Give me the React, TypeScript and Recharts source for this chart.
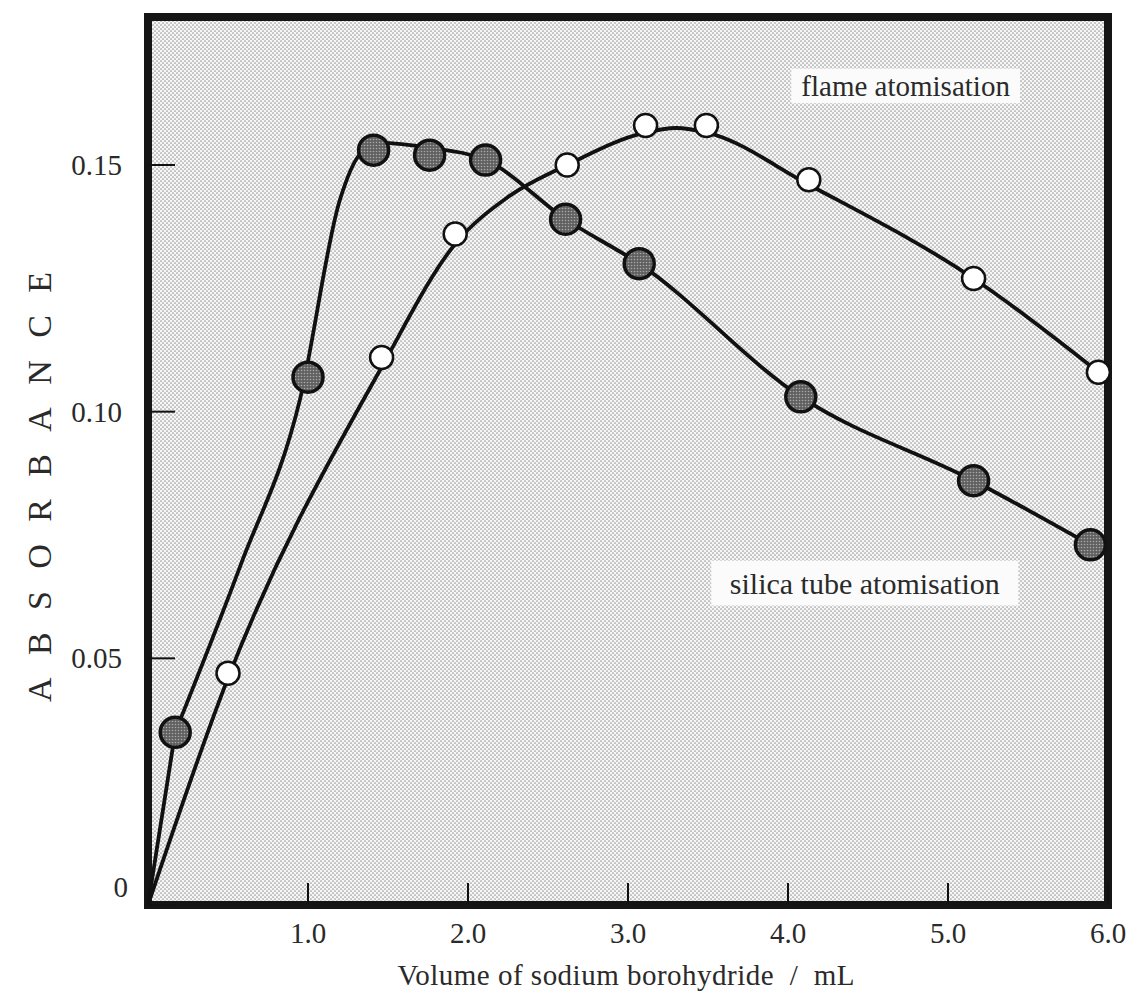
import {
  ComposedChart,
  Line,
  Scatter,
  XAxis,
  YAxis,
  CartesianGrid,
  ReferenceArea,
  Label,
} from "recharts";

const FONT = '"Liberation Serif", "Times New Roman", serif';

// tick values
const xTicks = [1, 2, 3, 4, 5, 6];
const yTicks = [0, 0.05, 0.1, 0.15];

// silica tube atomisation (filled circles)
const silicaX = [0.17, 1.0, 1.41, 1.76, 2.11, 2.61, 3.07, 4.08, 5.16, 5.89];
const silicaY = [0.035, 0.107, 0.153, 0.152, 0.151, 0.139, 0.13, 0.103, 0.086, 0.073];

// flame atomisation (open circles)
const flameX = [0.5, 1.46, 1.92, 2.62, 3.11, 3.49, 4.13, 5.16, 5.94];
const flameY = [0.047, 0.111, 0.136, 0.15, 0.158, 0.158, 0.147, 0.127, 0.108];

// hand-drawn fitted curves
// silica: straight stroke from the origin to the first point, then a smooth curve
const silicaStartX = [0, 0.17];
const silicaStartY = [0, 0.035];
const silicaCurveX = [0.17, 0.58, 0.95, 1.2, 1.32, 1.45, 1.76, 2.11, 2.61, 3.07, 4.08, 5.16, 5.89];
const silicaCurveY = [0.035, 0.069, 0.1025, 0.143, 0.152, 0.1545, 0.1535, 0.151, 0.139, 0.13, 0.103, 0.086, 0.073];
const flameCurveX = [0, 0.5, 1.46, 1.92, 2.25, 2.62, 3.1, 3.3, 3.5, 4.13, 5.16, 5.94];
const flameCurveY = [0, 0.046, 0.109, 0.134, 0.1435, 0.15, 0.1565, 0.1575, 0.1565, 0.146, 0.127, 0.108];

const toPts = (xs: number[], ys: number[]) => xs.map((x, i) => ({ x, y: ys[i] }));
const silicaPts = toPts(silicaX, silicaY);
const flamePts = toPts(flameX, flameY);
const silicaStart = toPts(silicaStartX, silicaStartY);
const silicaCurve = toPts(silicaCurveX, silicaCurveY);
const flameCurve = toPts(flameCurveX, flameCurveY);

function XTick({ x, y, payload }: any) {
  return (
    <text x={x} y={y + 38} textAnchor="middle" fontSize={29} fontFamily={FONT} fill="#2a2a2a">
      {Number(payload.value).toFixed(1)}
    </text>
  );
}

function YTick({ x, y, payload }: any) {
  const v = Number(payload.value);
  if (v === 0) {
    return (
      <text x={x - 20} y={y - 8} textAnchor="end" fontSize={29} fontFamily={FONT} fill="#2a2a2a">
        0
      </text>
    );
  }
  return (
    <text x={x - 26} y={y + 10} textAnchor="end" fontSize={29} fontFamily={FONT} fill="#2a2a2a">
      {v.toFixed(2)}
    </text>
  );
}

const OpenDot = (p: any) => (
  <circle cx={p.cx} cy={p.cy} r={11.5} fill="#fff" stroke="#111" strokeWidth={2.5} />
);

const FilledDot = (p: any) => (
  <circle cx={p.cx} cy={p.cy} r={15} fill="url(#darkStipple)" stroke="#111" strokeWidth={3.5} />
);

const XTitle = () => (
  <text
    x={626}
    y={985}
    textAnchor="middle"
    fontSize={29}
    fontFamily={FONT}
    fill="#2a2a2a"
    textLength={457}
    lengthAdjust="spacing"
    style={{ whiteSpace: "pre" }}
  >
    {"Volume of sodium borohydride  /  mL"}
  </text>
);

const YTitle = () => (
  <text
    x={39}
    y={487}
    transform="rotate(-90, 39, 487)"
    textAnchor="middle"
    dominantBaseline="central"
    fontSize={34}
    fontFamily={FONT}
    fill="#2a2a2a"
    textLength={430}
    lengthAdjust="spacing"
  >
    ABSORBANCE
  </text>
);

const curveProps = {
  dataKey: "y",
  stroke: "#111",
  strokeWidth: 3.8,
  dot: false,
  activeDot: false,
  isAnimationActive: false,
};

export default function App() {
  return (
    <div style={{ position: "absolute", left: 0, top: 0, width: 1128, height: 999, background: "#fff" }}>
      <svg width="0" height="0" style={{ position: "absolute" }}>
        <defs>
          <pattern id="stipple" width="4" height="4" patternUnits="userSpaceOnUse">
            <rect width="4" height="4" fill="#f6f6f6" />
            <circle cx="1" cy="1" r="0.85" fill="#9c9c9c" />
            <circle cx="3" cy="3" r="0.85" fill="#9c9c9c" />
          </pattern>
          <pattern id="darkStipple" width="3" height="3" patternUnits="userSpaceOnUse">
            <rect width="3" height="3" fill="#606060" />
            <circle cx="1.5" cy="1.5" r="0.8" fill="#a8a8a8" />
          </pattern>
        </defs>
      </svg>
      <ComposedChart width={1128} height={999} margin={{ top: 17, right: 20, bottom: 34, left: 0 }}>
        <CartesianGrid fill="url(#stipple)" horizontal={false} vertical={false} />
        <XAxis
          dataKey="x"
          type="number"
          domain={[0, 6]}
          ticks={xTicks}
          height={60}
          axisLine={false}
          tickSize={-22}
          tickMargin={22}
          tickLine={{ stroke: "#111", strokeWidth: 2 }}
          tick={XTick}
          interval={0}
        >
          <Label content={XTitle} />
        </XAxis>
        <YAxis
          dataKey="y"
          type="number"
          domain={[0, 0.18]}
          ticks={yTicks}
          width={148}
          axisLine={false}
          tickSize={-27}
          tickMargin={27}
          tickLine={{ stroke: "#111", strokeWidth: 2 }}
          tick={YTick}
          interval={0}
        >
          <Label content={YTitle} />
        </YAxis>

        <ReferenceArea
          x1={4.02}
          x2={5.45}
          y1={0.1625}
          y2={0.1695}
          fill="#fbfbfb"
          fillOpacity={1}
          stroke="none"
          ifOverflow="visible"
        >
          <Label value="flame atomisation" position="center" fontSize={29} fontFamily={FONT} fill="#2a2a2a" />
        </ReferenceArea>
        <ReferenceArea
          x1={3.52}
          x2={5.44}
          y1={0.0607}
          y2={0.0698}
          fill="#fbfbfb"
          fillOpacity={1}
          stroke="none"
          ifOverflow="visible"
        >
          <Label value="silica tube atomisation" position="center" fontSize={30} fontFamily={FONT} fill="#2a2a2a" />
        </ReferenceArea>

        <Line data={flameCurve} type="monotone" {...curveProps} />
        <Line data={silicaStart} type="linear" {...curveProps} />
        <Line data={silicaCurve} type="monotone" {...curveProps} />
        <Scatter data={flamePts} dataKey="y" shape={OpenDot} isAnimationActive={false} />
        <Scatter data={silicaPts} dataKey="y" shape={FilledDot} isAnimationActive={false} />

        <ReferenceArea
          x1={0}
          x2={6}
          y1={0}
          y2={0.18}
          fill="none"
          stroke="#151515"
          strokeWidth={8}
          ifOverflow="visible"
        />
      </ComposedChart>
    </div>
  );
}
